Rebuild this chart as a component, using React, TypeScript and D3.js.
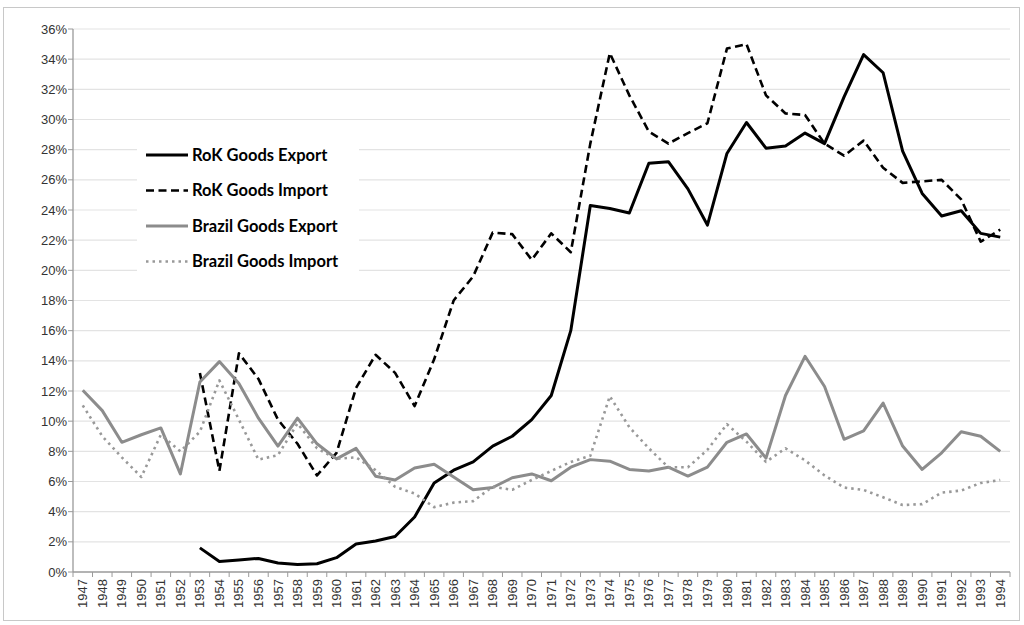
import React from "react";
import * as d3 from "d3";

// years on the category axis
const years = d3.range(1947, 1995).map(String);

// values in % of GDP, null = no data
const rokExport = [
  null, null, null, null, null, null,
  1.6, 0.7, 0.8, 0.9, 0.6, 0.5, 0.55, 0.95, 1.85, 2.05,
  2.35, 3.65, 5.9, 6.75, 7.3, 8.35, 9.0, 10.1, 11.7, 16.0,
  24.3, 24.1, 23.8, 27.1, 27.2, 25.4, 23.0, 27.75, 29.8, 28.1,
  28.25, 29.1, 28.4, 31.5, 34.3, 33.1, 27.9, 25.1, 23.6, 23.95,
  22.45, 22.2,
];
const rokImport = [
  null, null, null, null, null, null,
  13.2, 6.7, 14.5, 12.8, 10.1, 8.5, 6.4, 7.9, 12.2, 14.4,
  13.2, 11.0, 14.1, 18.0, 19.6, 22.5, 22.4, 20.7, 22.45, 21.2,
  28.4, 34.4, 31.6, 29.2, 28.4, 29.1, 29.75, 34.7, 35.0, 31.6,
  30.4, 30.3, 28.4, 27.6, 28.6, 26.8, 25.8, 25.9, 26.0, 24.7,
  21.9, 22.7,
];
const brazilExport = [
  12.05, 10.7, 8.6, 9.1, 9.55, 6.5, 12.6, 13.95, 12.5, 10.2,
  8.35, 10.2, 8.5, 7.5, 8.2, 6.35, 6.1, 6.9, 7.15, 6.3,
  5.45, 5.6, 6.25, 6.5, 6.05, 6.95, 7.45, 7.35, 6.8, 6.7,
  6.95, 6.36, 6.95, 8.6, 9.15, 7.55, 11.7, 14.3, 12.3, 8.8,
  9.35, 11.2, 8.35, 6.8, 7.9, 9.3, 9.0, 8.0,
];
const brazilImport = [
  11.05, 9.0, 7.6, 6.3, 9.1, 8.0, 9.3, 12.7, 10.1, 7.45,
  7.75, 9.85, 8.2, 7.5, 7.6, 6.75, 5.65, 5.2, 4.3, 4.6,
  4.7, 5.65, 5.45, 6.1, 6.7, 7.3, 7.7, 11.65, 9.6, 8.2,
  6.94, 6.94, 8.1, 9.8, 8.64, 7.3, 8.2, 7.4, 6.4, 5.6,
  5.44, 4.95, 4.44, 4.5, 5.26, 5.4, 5.9, 6.1,
];

const yTicks = d3.range(0, 37, 2);

const series = [
  { name: "RoK Goods Export", values: rokExport, color: "#000", dash: "none", width: 3 },
  { name: "RoK Goods Import", values: rokImport, color: "#000", dash: "8 4.5", width: 2.6 },
  { name: "Brazil Goods Export", values: brazilExport, color: "#8c8c8c", dash: "none", width: 3 },
  { name: "Brazil Goods Import", values: brazilImport, color: "#999", dash: "2.5 4", width: 2.6 },
];

export default function App() {
  const width = 1024;
  const height = 625;
  const left = 73, right = 1010, top = 29, bottom = 572;

  const x = d3.scaleBand().domain(years).range([left, right]);
  const y = d3.scaleLinear().domain([0, 36]).range([bottom, top]);

  const line = d3
    .line<number | null>()
    .defined((d) => d != null)
    .x((_, i) => x(years[i])! + x.bandwidth() / 2)
    .y((d) => y(d as number));

  const tickFont = "'Liberation Sans', Arial, sans-serif";

  return (
    <div style={{ position: "absolute", left: 0, top: 0 }}>
      <svg width={width} height={height} style={{ display: "block", background: "#fff" }}>
        <rect x={3.5} y={7.5} width={1016} height={613} fill="#fff" stroke="#c8c8c8" />

        {/* gridlines */}
        {yTicks.slice(1).map((t) => (
          <line key={t} x1={left} x2={right} y1={y(t)} y2={y(t)} stroke="#e3e3e3" strokeWidth={1.2} />
        ))}

        {/* y axis */}
        <line x1={left} x2={left} y1={top} y2={bottom} stroke="#9a9a9a" strokeWidth={1.3} />
        {yTicks.map((t) => (
          <g key={t}>
            <line x1={left - 5} x2={left} y1={y(t)} y2={y(t)} stroke="#9a9a9a" />
            <text x={left - 6} y={y(t)} dy="0.35em" textAnchor="end" fontSize={13} fontFamily={tickFont} fill="#333">
              {t}%
            </text>
          </g>
        ))}

        {/* x axis */}
        <line x1={left} x2={right} y1={bottom} y2={bottom} stroke="#9a9a9a" strokeWidth={1.3} />
        {years.map((yr) => (
          <line key={"t" + yr} x1={x(yr)!} x2={x(yr)!} y1={bottom} y2={bottom + 5} stroke="#9a9a9a" />
        ))}
        <line x1={right} x2={right} y1={bottom} y2={bottom + 5} stroke="#9a9a9a" />
        {years.map((yr) => {
          const cx = x(yr)! + x.bandwidth() / 2;
          return (
            <text
              key={"l" + yr}
              transform={`translate(${cx},${bottom + 7}) rotate(-90)`}
              dy="0.35em"
              textAnchor="end"
              fontSize={13}
              fontFamily={tickFont}
              fill="#333"
            >
              {yr}
            </text>
          );
        })}

        {/* series */}
        {series.map((s) => (
          <path
            key={s.name}
            d={line(s.values) || ""}
            fill="none"
            stroke={s.color}
            strokeWidth={s.width}
            strokeDasharray={s.dash}
            strokeLinejoin="round"
          />
        ))}

        {/* legend */}
        <rect x={137} y={136} width={222} height={144} fill="#fff" />
        {series.map((s, i) => {
          const ly = 155 + i * 35.5;
          return (
            <g key={"lg" + s.name}>
              <line x1={146} x2={188} y1={ly} y2={ly} stroke={s.color} strokeWidth={s.width} strokeDasharray={s.dash} />
              <text x={192} y={ly} dy="0.35em" fontSize={16.5} fontWeight="bold" fontFamily="Lato, 'Open Sans', sans-serif" fill="#000">
                {s.name}
              </text>
            </g>
          );
        })}
      </svg>
    </div>
  );
}
